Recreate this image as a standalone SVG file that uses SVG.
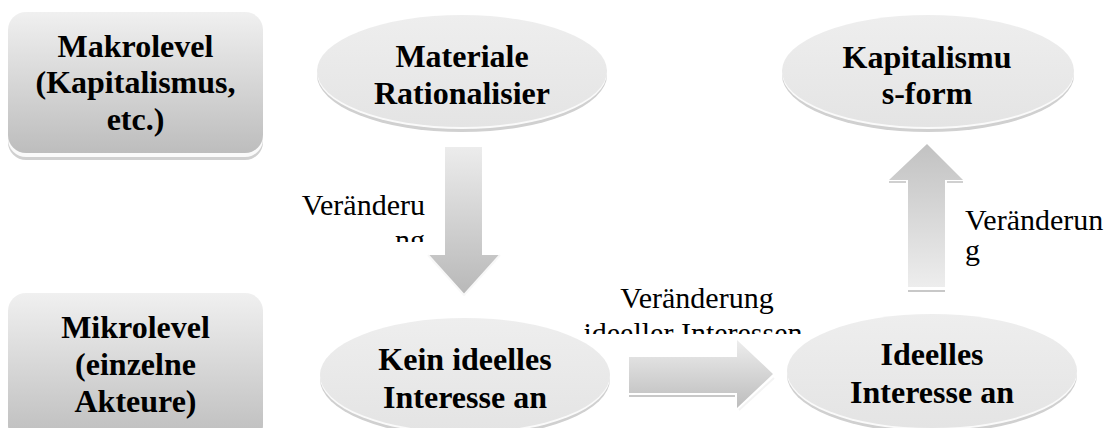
<svg xmlns="http://www.w3.org/2000/svg" width="1115" height="428" viewBox="0 0 1115 428">
  <defs>
    <linearGradient id="boxGrad" x1="0" y1="0" x2="0" y2="1">
      <stop offset="0" stop-color="#f0f0f0"/>
      <stop offset="1" stop-color="#bdbdbd"/>
    </linearGradient>
    <linearGradient id="ellGrad" x1="0" y1="0" x2="0" y2="1">
      <stop offset="0" stop-color="#eeeeee"/>
      <stop offset="1" stop-color="#e4e4e4"/>
    </linearGradient>
    <linearGradient id="downGrad" x1="0" y1="0" x2="0" y2="1">
      <stop offset="0" stop-color="#ececec"/>
      <stop offset="1" stop-color="#b8b8b8"/>
    </linearGradient>
    <linearGradient id="upGrad" x1="0" y1="0" x2="0" y2="1">
      <stop offset="0" stop-color="#c2c2c2"/>
      <stop offset="1" stop-color="#ededed"/>
    </linearGradient>
    <linearGradient id="rightGrad" x1="0" y1="0" x2="0" y2="1">
      <stop offset="0" stop-color="#ededed"/>
      <stop offset="1" stop-color="#bdbdbd"/>
    </linearGradient>
    <clipPath id="clipLeft"><rect x="280" y="170" width="160" height="72"/></clipPath>
    <clipPath id="clipMid"><rect x="560" y="270" width="260" height="64"/></clipPath>
    <style>
      .bold { font-family: "Liberation Serif", "Times New Roman", serif; font-weight: bold; font-size: 32px; fill: #000; text-anchor: middle; }
      .lbl { font-family: "Liberation Serif", "Times New Roman", serif; font-size: 30px; fill: #000; }
      .rim { fill: #d0d0d0; }
      .rimHi { fill: #fafafa; }
      .ell { fill: url(#ellGrad); }
      .box { fill: url(#boxGrad); }
    </style>
  </defs>

  <g id="makrolevel">
    <rect class="rim" x="8" y="16" width="255" height="144" rx="18"/>
    <rect class="rimHi" x="8" y="14" width="255" height="143" rx="18"/>
    <rect class="box" x="8" y="12" width="255" height="141" rx="18"/>
    <text class="bold" x="135.5" y="57">Makrolevel</text>
    <text class="bold" x="135.5" y="93">(Kapitalismus,</text>
    <text class="bold" x="135.5" y="130">etc.)</text>
  </g>

  <g id="mikrolevel">
    <rect class="rim" x="8" y="297" width="255" height="150" rx="18"/>
    <rect class="rimHi" x="8" y="295" width="255" height="150" rx="18"/>
    <rect class="box" x="8" y="293" width="255" height="150" rx="18"/>
    <text class="bold" x="135.5" y="338">Mikrolevel</text>
    <text class="bold" x="135.5" y="375">(einzelne</text>
    <text class="bold" x="135.5" y="412">Akteure)</text>
  </g>

  <g id="materiale">
    <ellipse class="rim" cx="462" cy="75" rx="145" ry="57"/>
    <ellipse class="rimHi" cx="462" cy="73" rx="145" ry="56"/>
    <ellipse class="ell" cx="462" cy="71" rx="145" ry="56"/>
    <text class="bold" x="462" y="67">Materiale</text>
    <text class="bold" x="462" y="104">Rationalisier</text>
  </g>

  <g id="kapitalismusform">
    <ellipse class="rim" cx="928" cy="75" rx="146" ry="57"/>
    <ellipse class="rimHi" cx="928" cy="73" rx="146" ry="56"/>
    <ellipse class="ell" cx="928" cy="71" rx="146" ry="56"/>
    <text class="bold" x="927" y="68">Kapitalismu</text>
    <text class="bold" x="927" y="104">s-form</text>
  </g>

  <g id="keinideelles">
    <ellipse class="rim" cx="465" cy="379" rx="145" ry="58"/>
    <ellipse class="rimHi" cx="465" cy="377" rx="145" ry="57"/>
    <ellipse class="ell" cx="465" cy="375" rx="145" ry="57"/>
    <text class="bold" x="465" y="370">Kein ideelles</text>
    <text class="bold" x="465" y="408">Interesse an</text>
  </g>

  <g id="ideelles">
    <ellipse class="rim" cx="932" cy="375" rx="145" ry="58"/>
    <ellipse class="rimHi" cx="932" cy="373" rx="145" ry="57"/>
    <ellipse class="ell" cx="932" cy="371" rx="145" ry="57"/>
    <text class="bold" x="932" y="365">Ideelles</text>
    <text class="bold" x="932" y="403">Interesse an</text>
  </g>

  <g id="connectors">
    <g id="arrow-down">
      <polygon points="445,147 482,147 482,255 500,255 464,295 428,255 445,255" fill="url(#downGrad)"/>
      <polyline points="428,255 464,295 500,255" fill="none" stroke="#f8f8f8" stroke-width="2"/>
      <text class="lbl" x="425" y="215" text-anchor="end">Veränderu</text>
      <text class="lbl" x="425" y="250" text-anchor="end" clip-path="url(#clipLeft)">ng</text>
    </g>
    <g id="arrow-right">
      <polygon points="629,357 737,357 737,340 773,374 737,408 737,393 629,393" fill="url(#rightGrad)"/>
      <line x1="629" y1="396" x2="735" y2="396" stroke="#c8c8c8" stroke-width="2"/>
      <line x1="739" y1="410" x2="774" y2="378" stroke="#f4f4f4" stroke-width="2"/>
      <text class="lbl" x="697" y="308" text-anchor="middle">Veränderung</text>
      <text class="lbl" x="693" y="343" text-anchor="middle" clip-path="url(#clipMid)">ideeller Interessen</text>
    </g>
    <g id="arrow-up">
      <polygon points="927,144 963,180 945,180 945,287 908,287 908,180 889,180" fill="url(#upGrad)"/>
      <line x1="889" y1="182" x2="906" y2="182" stroke="#d0d0d0" stroke-width="2"/>
      <line x1="947" y1="182" x2="963" y2="182" stroke="#d0d0d0" stroke-width="2"/>
      <line x1="908" y1="291" x2="945" y2="291" stroke="#c8c8c8" stroke-width="2"/>
      <text class="lbl" x="965" y="230">Veränderun</text>
      <text class="lbl" x="965" y="260">g</text>
    </g>
  </g>
</svg>
